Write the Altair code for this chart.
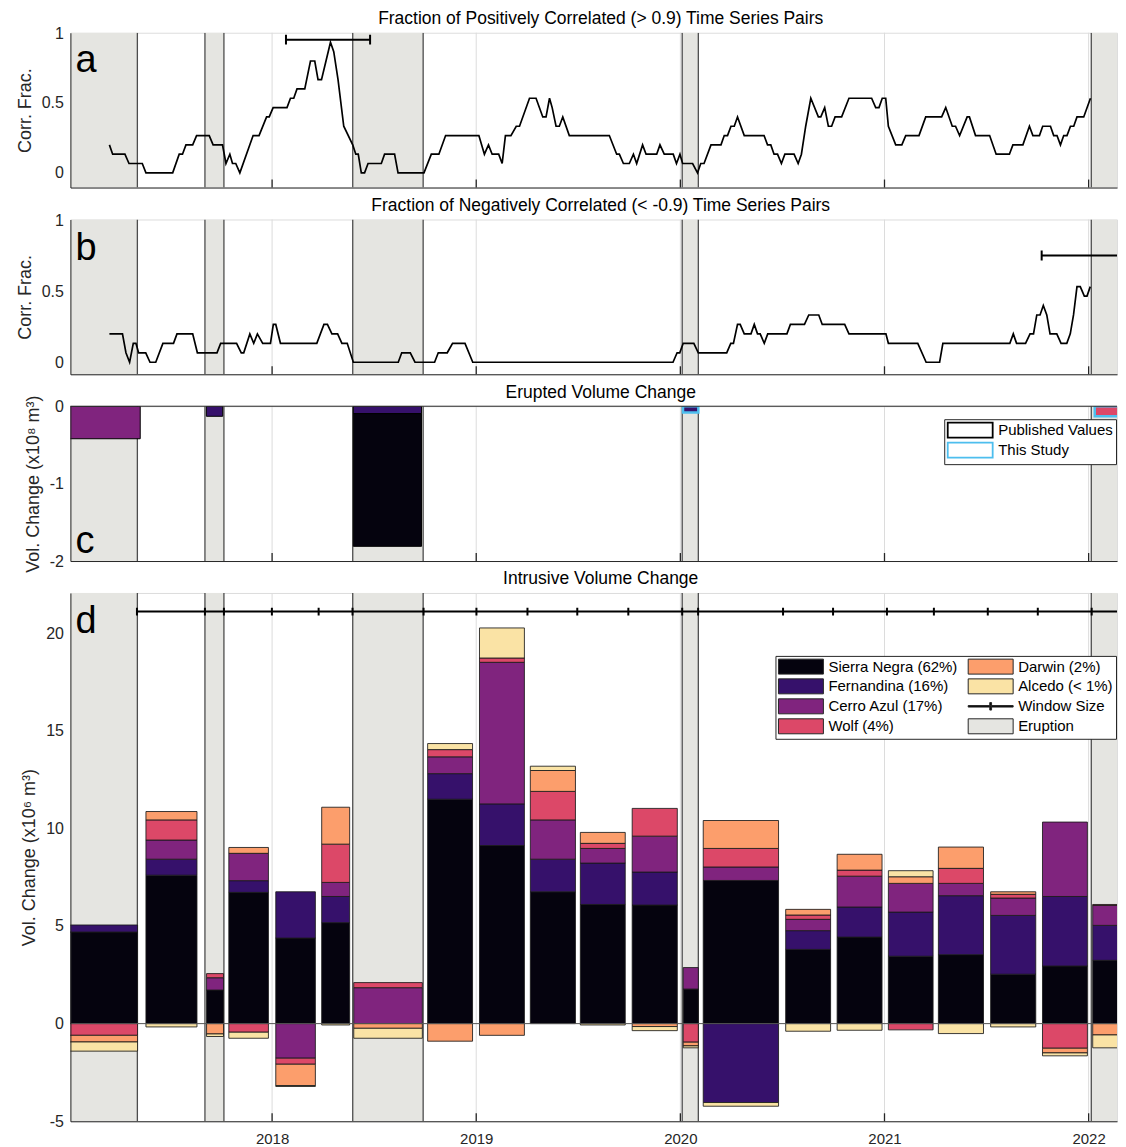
import altair as alt
import pandas as pd

FONT = "Liberation Sans"
INK = "#262626"
ERUPT_FILL = "#E5E5E1"
ERUPT_EDGE = "#4D4D4D"
GRID = "#DCDCDC"
W = 1048
H_A, H_B, H_C, H_D = 155, 155, 155, 529
X_DOMAIN = [2017.012, 2022.139]

years = [2018, 2019, 2020, 2021, 2022]
eruption_start = [2016.90, 2017.671, 2018.395, 2020.009, 2022.013]
eruption_end = [2017.340, 2017.764, 2018.740, 2020.088, 2022.600]
n_pairs = 15

# ---- panel a: positively correlated pairs (count of 15 pairs)
pos_time = [2017.203, 2017.219, 2017.279, 2017.299, 2017.364, 2017.382, 2017.513, 2017.545, 2017.561, 2017.578,
            2017.611, 2017.630, 2017.692, 2017.711, 2017.757, 2017.774, 2017.793, 2017.806, 2017.822, 2017.842,
            2017.907, 2017.936, 2017.973, 2017.986, 2018.005, 2018.073, 2018.090, 2018.106, 2018.122, 2018.160,
            2018.188, 2018.209, 2018.225, 2018.242, 2018.264, 2018.286, 2018.302, 2018.323, 2018.351, 2018.395,
            2018.410, 2018.422, 2018.437, 2018.453, 2018.470, 2018.535, 2018.551, 2018.600, 2018.617, 2018.744,
            2018.780, 2018.817, 2018.850, 2019.013, 2019.040, 2019.060, 2019.078, 2019.110, 2019.127, 2019.143,
            2019.170, 2019.196, 2019.212, 2019.261, 2019.293, 2019.326, 2019.342, 2019.359, 2019.372, 2019.391,
            2019.407, 2019.424, 2019.456, 2019.652, 2019.688, 2019.701, 2019.721, 2019.750, 2019.770, 2019.786,
            2019.815, 2019.832, 2019.884, 2019.900, 2019.921, 2019.965, 2019.981, 2019.998, 2020.011, 2020.060,
            2020.084, 2020.100, 2020.116, 2020.150, 2020.199, 2020.215, 2020.231, 2020.248, 2020.264, 2020.280,
            2020.313, 2020.410, 2020.427, 2020.443, 2020.459, 2020.476, 2020.495, 2020.512, 2020.557, 2020.577,
            2020.593, 2020.614, 2020.639, 2020.676, 2020.688, 2020.707, 2020.725, 2020.741, 2020.758, 2020.790,
            2020.826, 2020.937, 2020.957, 2020.973, 2020.989, 2021.006, 2021.019, 2021.055, 2021.085, 2021.104,
            2021.169, 2021.202, 2021.280, 2021.300, 2021.332, 2021.348, 2021.368, 2021.405, 2021.416, 2021.446,
            2021.515, 2021.547, 2021.612, 2021.629, 2021.678, 2021.710, 2021.727, 2021.759, 2021.775, 2021.813,
            2021.829, 2021.845, 2021.862, 2021.878, 2021.894, 2021.911, 2021.927, 2021.943, 2021.976, 2022.009]
pos_count = [3, 2, 2, 1, 1, 0, 0, 2, 2, 3,
             3, 4, 4, 3, 3, 1, 2, 1, 1, 0,
             4, 4, 6, 6, 7, 7, 8, 8, 9, 9,
             12, 12, 10, 10, 12, 14, 13, 10, 5, 3,
             2, 2, 0, 0, 1, 1, 2, 2, 0, 0,
             2, 2, 4, 4, 2, 3, 2, 2, 1, 4,
             4, 5, 5, 8, 8, 6, 6, 8, 7, 5,
             5, 6, 4, 4, 2, 2, 1, 1, 2, 1,
             3, 2, 2, 3, 2, 2, 1, 2, 1, 1,
             0, 1, 1, 3, 3, 4, 4, 5, 5, 6,
             4, 4, 3, 3, 2, 2, 1, 2, 2, 1,
             2, 5, 8, 6, 6, 7, 5, 5, 6, 6,
             8, 8, 7, 7, 8, 8, 5, 3, 3, 4,
             4, 6, 6, 7, 5, 5, 4, 6, 6, 4,
             4, 2, 2, 3, 3, 5, 4, 4, 5, 5,
             4, 4, 3, 4, 4, 5, 5, 6, 6, 8]

# ---- panel b: negatively correlated pairs
neg_time = [2017.203, 2017.267, 2017.284, 2017.302, 2017.320, 2017.333, 2017.346, 2017.381, 2017.402, 2017.430,
            2017.465, 2017.517, 2017.534, 2017.611, 2017.634, 2017.730, 2017.748, 2017.826, 2017.849, 2017.861,
            2017.891, 2017.910, 2017.928, 2017.954, 2017.992, 2018.006, 2018.018, 2018.041, 2018.219, 2018.254,
            2018.271, 2018.293, 2018.321, 2018.342, 2018.368, 2018.398, 2018.618, 2018.635, 2018.677, 2018.700,
            2018.796, 2018.814, 2018.858, 2018.884, 2018.945, 2018.983, 2019.964, 2019.984, 2019.997, 2020.014,
            2020.066, 2020.088, 2020.227, 2020.247, 2020.260, 2020.280, 2020.293, 2020.313, 2020.346, 2020.362,
            2020.378, 2020.391, 2020.411, 2020.428, 2020.522, 2020.539, 2020.608, 2020.629, 2020.678, 2020.695,
            2020.805, 2020.826, 2021.007, 2021.019, 2021.163, 2021.204, 2021.270, 2021.286, 2021.614, 2021.631,
            2021.647, 2021.691, 2021.713, 2021.730, 2021.746, 2021.762, 2021.778, 2021.795, 2021.811, 2021.844,
            2021.865, 2021.893, 2021.910, 2021.926, 2021.943, 2021.959, 2021.979, 2021.992, 2022.008]
neg_count = [3, 3, 1, 0, 2, 2, 1, 1, 0, 0,
             2, 2, 3, 3, 1, 1, 2, 2, 1, 1,
             3, 2, 3, 2, 2, 4, 4, 2, 2, 4,
             4, 3, 3, 2, 2, 0, 0, 1, 1, 0,
             0, 1, 1, 2, 2, 0, 0, 1, 1, 2,
             2, 1, 1, 2, 2, 4, 4, 3, 3, 4,
             3, 3, 2, 3, 3, 4, 4, 5, 5, 4,
             4, 3, 3, 2, 2, 0, 0, 2, 2, 3,
             2, 2, 3, 3, 5, 5, 6, 5, 3, 3,
             2, 2, 3, 5, 8, 8, 7, 7, 8]

win_a = [2018.068, 2018.480]
win_a_level = 0.952
win_b = [2021.770, 2022.183]
win_b_level = 0.753

# ---- panel c: erupted volume (x10^8 m^3)
erupt_start = [2016.90, 2017.678, 2018.398, 2018.398, 2020.013, 2022.030]
erupt_end = [2017.354, 2017.758, 2018.732, 2018.732, 2020.088, 2022.400]
erupt_volcano = ["Cerro Azul (17%)", "Fernandina (16%)", "Fernandina (16%)", "Sierra Negra (62%)",
                 "Fernandina (16%)", "Wolf (4%)"]
erupt_volume = [-0.42, -0.13, -0.095, -1.715, -0.08, -0.13]
erupt_source = ["Published Values", "Published Values", "Published Values", "Published Values",
                "This Study", "This Study"]

# ---- panel d: intrusive volume (x10^6 m^3)
window_ticks = [2017.338, 2017.671, 2017.764, 2017.999, 2018.228, 2018.394, 2018.742, 2019.001, 2019.251, 2019.495,
                2019.745, 2020.009, 2020.087, 2020.503, 2020.748, 2021.012, 2021.242, 2021.506, 2021.751, 2022.015]
window_level = 21.1
bar_start = [2016.95, 2017.382, 2017.679, 2017.788, 2018.018, 2018.243, 2018.400, 2018.762, 2019.016, 2019.265,
             2019.510, 2019.764, 2020.014, 2020.112, 2020.516, 2020.768, 2021.019, 2021.264, 2021.520, 2021.774,
             2022.020]
bar_end = [2017.341, 2017.632, 2017.762, 2017.982, 2018.212, 2018.380, 2018.736, 2018.982, 2019.236, 2019.486,
           2019.730, 2019.985, 2020.088, 2020.481, 2020.736, 2020.988, 2021.238, 2021.485, 2021.741, 2021.994,
           2022.240]
sierra_negra = [4.69, 7.60, 1.72, 6.72, 4.38, 5.17, 0.0, 11.49, 9.12, 6.75, 6.10, 6.07, 1.77, 7.33, 3.80, 4.43,
                3.45, 3.53, 2.53, 2.95, 3.24]
fernandina = [0.36, 0.82, 0.0, 0.60, 2.37, 1.34, 0.0, 1.31, 2.13, 1.67, 2.12, 1.69, 0.0, -4.04, 0.96, 1.54,
              2.26, 3.02, 3.01, 3.56, 1.79]
cerro_azul = [0.0, 0.98, 0.63, 1.40, -1.77, 0.72, 1.84, 0.86, 7.25, 2.01, 0.75, 1.84, 1.10, 0.69, 0.58, 1.58,
              1.47, 0.63, 0.89, 3.81, 1.02]
wolf = [-0.60, 1.03, 0.21, -0.44, -0.31, 1.96, 0.26, 0.37, 0.22, 1.46, 0.26, 1.42, -0.95, 0.95, 0.22, 0.31,
        -0.32, 0.77, 0.19, -1.26, 0.05]
darwin = [-0.34, 0.43, -0.53, 0.30, -1.09, 1.89, -0.24, -0.90, -0.60, 1.07, 0.56, -0.15, -0.19, 1.43, 0.29, 0.81,
          0.34, 1.09, 0.13, -0.24, -0.58]
alcedo = [-0.47, -0.17, -0.13, -0.31, -0.05, -0.07, -0.51, 0.31, 1.54, 0.22, -0.07, -0.21, -0.10, -0.19, -0.39,
          -0.34, 0.31, -0.51, -0.17, -0.15, -0.66]

volcanoes = ["Sierra Negra (62%)", "Fernandina (16%)", "Cerro Azul (17%)", "Wolf (4%)", "Darwin (2%)",
             "Alcedo (< 1%)"]
volcano_series = [sierra_negra, fernandina, cerro_azul, wolf, darwin, alcedo]
volcano_colors = ["#05030E", "#36116B", "#80247E", "#DC4868", "#FC9E6C", "#FAE3A5"]

# legend entries (the 2-column legend is filled column by column)
legend_domain = volcanoes + ["Window Size", "Eruption"]
legend_colors = volcano_colors + ["#000000", ERUPT_FILL]
color_scale = alt.Scale(domain=legend_domain, range=legend_colors)

RECT_PATH = "M-1,-1H5V1H-1Z"
LINE_PATH = "M-1,-0.1H5V0.1H-1Z M1.88,-0.5H2.12V0.5H1.88Z"


# ---------------- helpers
def xq(field, axis):
    return alt.X(f"{field}:Q", scale=alt.Scale(domain=X_DOMAIN, nice=False, zero=False), axis=axis, title=None)


def yq(field, domain, axis, title):
    return alt.Y(f"{field}:Q", scale=alt.Scale(domain=domain, nice=False, zero=False), axis=axis, title=title)


YAX = dict(ticks=False, grid=False, domainColor=INK, domainWidth=1, labelFontSize=16, labelColor=INK,
           labelFont=FONT, labelPadding=7, titleFontSize=18, titleFontWeight="normal", titleColor=INK,
           titleFont=FONT, titlePadding=7, zindex=1, labelExpr="'' + datum.value")
x_hidden = alt.Axis(values=years, labels=False, ticks=False, grid=False, domainColor=INK, domainWidth=1, zindex=1)
x_shown = alt.Axis(values=years, labelExpr="'' + datum.value", labelFontSize=15, labelFont=FONT, labelColor=INK,
                   labelPadding=10, ticks=False, grid=False, domainColor=INK, domainWidth=1, zindex=1)

er_df = pd.DataFrame({"s": eruption_start, "e": eruption_end})
edge_df = pd.DataFrame({"t": eruption_start + eruption_end})
yr_df = pd.DataFrame({"t": years})


def frame(H, xaxis):
    shade = alt.Chart(er_df).mark_rect(fill=ERUPT_FILL, clip=True).encode(
        x=xq("s", xaxis), x2="e:Q", y=alt.value(0), y2=alt.value(H))
    grid = alt.Chart(yr_df).mark_rule(color=GRID, strokeWidth=1).encode(
        x=xq("t", xaxis), y=alt.value(0), y2=alt.value(H))
    edge = alt.Chart(edge_df).mark_rule(color=ERUPT_EDGE, strokeWidth=1.3, clip=True).encode(
        x=xq("t", xaxis), y=alt.value(0), y2=alt.value(H))
    return [shade, grid, edge]


def ticks(H, xaxis):
    return alt.Chart(yr_df).mark_rule(color=INK, strokeWidth=1.3).encode(
        x=xq("t", xaxis), y=alt.value(H - 8), y2=alt.value(H))


def letter(ch, x, y):
    return alt.Chart(pd.DataFrame({"l": [ch]})).mark_text(
        font=FONT, fontSize=38, align="left", baseline="alphabetic", color="black").encode(
        x=alt.value(x), y=alt.value(y), text="l:N")


def title_mark(text, y):
    return alt.Chart(pd.DataFrame({"l": [text]})).mark_text(
        font=FONT, fontSize=17.5, align="center", baseline="middle", color="black").encode(
        x=alt.value(531), y=alt.value(y), text="l:N")


def window_bar(span, level, dom, yaxis, ytitle):
    df = pd.DataFrame({"s": [span[0]], "e": [span[1]], "y": [level]})
    caps = pd.DataFrame({"t": span, "y0": [level - 0.035] * 2, "y1": [level + 0.035] * 2})
    bar = alt.Chart(df).mark_rule(color="black", strokeWidth=2, clip=True).encode(
        x=xq("s", x_hidden), x2="e:Q", y=yq("y", dom, yaxis, ytitle))
    cap = alt.Chart(caps).mark_rule(color="black", strokeWidth=2, clip=True).encode(
        x=xq("t", x_hidden), y=yq("y0", dom, yaxis, ytitle), y2="y1:Q")
    return [bar, cap]


LEG = dict(orient="none", title=None, symbolSize=225, labelOffset=34.5, symbolOpacity=1,
           labelFont=FONT, labelFontSize=15, labelColor="black", labelLimit=300, padding=2.5,
           strokeColor=INK, fillColor="white")

# ---------------- panel a
dom_a = [-0.105, 1.002]
yax_a = alt.Axis(values=[0, 0.5, 1], **YAX)
pos_df = pd.DataFrame({"t": pos_time, "f": [c / n_pairs for c in pos_count]})
line_a = alt.Chart(pos_df).mark_line(color="black", strokeWidth=1.7, clip=True).encode(
    x=xq("t", x_hidden), y=yq("f", dom_a, yax_a, "Corr. Frac."))
panel_a = alt.layer(*frame(H_A, x_hidden), line_a, *window_bar(win_a, win_a_level, dom_a, yax_a, "Corr. Frac."),
                    ticks(H_A, x_hidden), letter("a", 5, 39),
                    title_mark("Fraction of Positively Correlated (> 0.9) Time Series Pairs", -14)).properties(
    width=W, height=H_A)

# ---------------- panel b
dom_b = [-0.085, 1.007]
yax_b = alt.Axis(values=[0, 0.5, 1], **YAX)
neg_df = pd.DataFrame({"t": neg_time, "f": [c / n_pairs for c in neg_count]})
line_b = alt.Chart(neg_df).mark_line(color="black", strokeWidth=1.7, clip=True).encode(
    x=xq("t", x_hidden), y=yq("f", dom_b, yax_b, "Corr. Frac."))
panel_b = alt.layer(*frame(H_B, x_hidden), line_b, *window_bar(win_b, win_b_level, dom_b, yax_b, "Corr. Frac."),
                    ticks(H_B, x_hidden), letter("b", 5, 41),
                    title_mark("Fraction of Negatively Correlated (< -0.9) Time Series Pairs", -13)).properties(
    width=W, height=H_B)

# ---------------- panel c
dom_c = [-2, 0]
yax_c = alt.Axis(values=[-2, -1, 0], **YAX)
title_c = "Vol. Change (x10\u2078 m\u00b3)"
c_rows = []
acc = {}
for s, e, v, val, src in zip(erupt_start, erupt_end, erupt_volcano, erupt_volume, erupt_source):
    base = acc.get((s, e), 0.0)
    c_rows.append({"s": s, "e": e, "v": v, "y0": base, "y1": base + val, "src": src})
    acc[(s, e)] = base + val
c_df = pd.DataFrame(c_rows)
stroke_scale = alt.Scale(domain=["Published Values", "This Study"], range=["#000000", "#4DBEEE"])
leg_c = alt.Legend(legendX=875, legendY=13, rowPadding=-3.3, symbolType=RECT_PATH, symbolFillColor="white",
                   symbolStrokeWidth=1.8, **LEG)
c_pub = alt.Chart(c_df[c_df.src == "Published Values"]).mark_rect(clip=True).encode(
    x=xq("s", x_hidden), x2="e:Q", y=yq("y0", dom_c, yax_c, title_c), y2="y1:Q",
    color=alt.Color("v:N", scale=color_scale, legend=None),
    stroke=alt.Stroke("src:N", scale=stroke_scale, legend=leg_c))
c_new = alt.Chart(c_df[c_df.src == "This Study"]).mark_rect(clip=True, strokeWidth=2.5).encode(
    x=xq("s", x_hidden), x2="e:Q", y=yq("y0", dom_c, yax_c, title_c), y2="y1:Q",
    color=alt.Color("v:N", scale=color_scale, legend=None),
    stroke=alt.Stroke("src:N", scale=stroke_scale, legend=leg_c))
zero_c = alt.Chart(pd.DataFrame({"y": [0]})).mark_rule(color=INK, strokeWidth=1).encode(
    y=yq("y", dom_c, yax_c, title_c))
panel_c = alt.layer(*frame(H_C, x_hidden), c_pub, c_new, zero_c, ticks(H_C, x_hidden),
                    letter("c", 5, 147), title_mark("Erupted Volume Change", -13)).properties(
    width=W, height=H_C)

# ---------------- panel d
dom_d = [-5, 22.05]
yax_d = alt.Axis(values=[-5, 0, 5, 10, 15, 20], **YAX)
title_d = "Vol. Change (x10\u2076 m\u00b3)"
d_rows = []
for i in range(len(bar_start)):
    pos, neg = 0.0, 0.0
    for name, series in zip(volcanoes, volcano_series):
        val = series[i]
        if val > 0:
            d_rows.append({"s": bar_start[i], "e": bar_end[i], "v": name, "y0": pos, "y1": pos + val})
            pos += val
        elif val < 0:
            d_rows.append({"s": bar_start[i], "e": bar_end[i], "v": name, "y0": neg, "y1": neg + val})
            neg += val
d_df = pd.DataFrame(d_rows)
leg_d = alt.Legend(legendX=706, legendY=63, columns=2, columnPadding=8, rowPadding=0,
                   symbolType={"expr": "datum.value === 'Window Size' ? '%s' : '%s'" % (LINE_PATH, RECT_PATH)},
                   symbolStrokeColor=INK, symbolStrokeWidth=1, **LEG)
bars_d = alt.Chart(d_df).mark_rect(clip=True, stroke="#1A1A1A", strokeOpacity=0.85).encode(
    x=xq("s", x_shown), x2="e:Q", y=yq("y0", dom_d, yax_d, title_d), y2="y1:Q",
    color=alt.Color("v:N", scale=color_scale, legend=leg_d))
zero_d = alt.Chart(pd.DataFrame({"y": [0]})).mark_rule(color="#555555", strokeWidth=1).encode(
    y=yq("y", dom_d, yax_d, title_d))
win_df = pd.DataFrame({"s": [window_ticks[0]], "e": [X_DOMAIN[1] + 0.2], "y": [window_level]})
win_line = alt.Chart(win_df).mark_rule(color="black", strokeWidth=2, clip=True).encode(
    x=xq("s", x_shown), x2="e:Q", y=yq("y", dom_d, yax_d, title_d))
wt_df = pd.DataFrame({"t": window_ticks, "y0": [window_level - 0.2] * len(window_ticks),
                      "y1": [window_level + 0.2] * len(window_ticks)})
win_ticks = alt.Chart(wt_df).mark_rule(color="black", strokeWidth=2, clip=True).encode(
    x=xq("t", x_shown), y=yq("y0", dom_d, yax_d, title_d), y2="y1:Q")
panel_d = alt.layer(*frame(H_D, x_shown), bars_d, zero_d, win_line, win_ticks, ticks(H_D, x_shown),
                    letter("d", 5, 40), title_mark("Intrusive Volume Change", -14)).properties(
    width=W, height=H_D)

chart = alt.vconcat(panel_a, panel_b, panel_c, panel_d, spacing=32, bounds="flush").resolve_scale(
    color="independent", stroke="independent").properties(
    padding={"left": 7.5, "top": 0, "right": 0, "bottom": 0}).configure_view(stroke=None).configure(font=FONT)

chart.save("out.html", embed_options={"renderer": "svg", "actions": False})
